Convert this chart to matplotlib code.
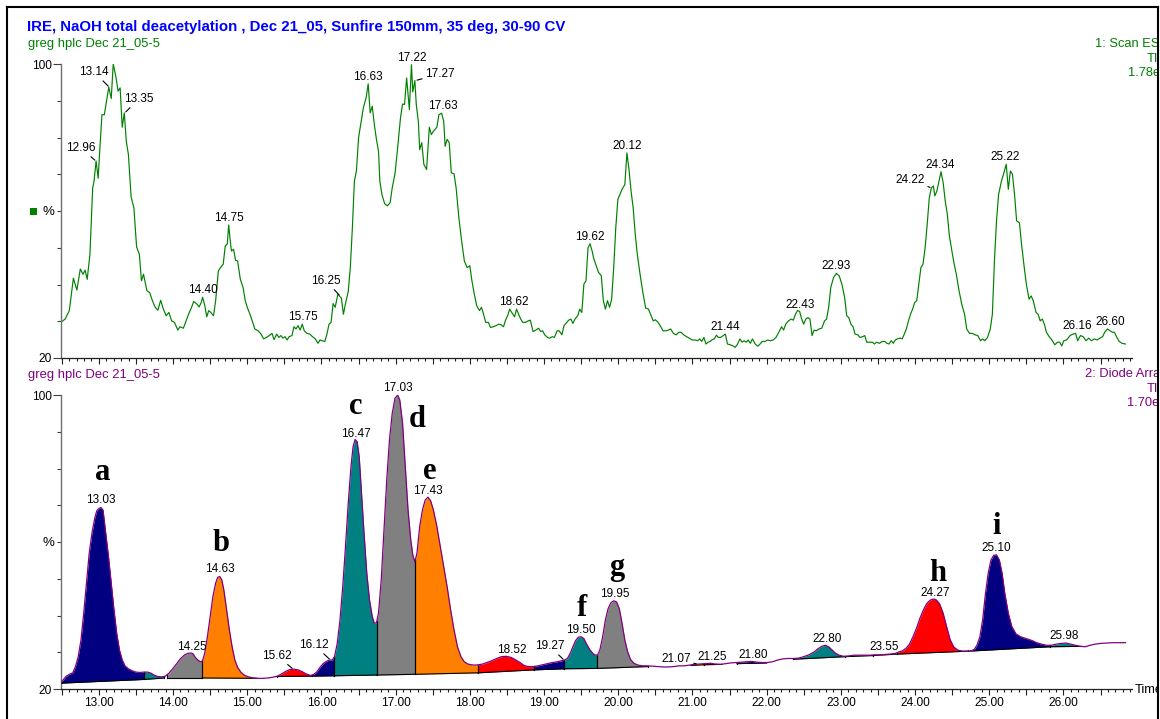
import numpy as np
import matplotlib
matplotlib.use("Agg")
import matplotlib.pyplot as plt
from matplotlib.patches import Rectangle
from matplotlib.lines import Line2D
from matplotlib.ticker import MultipleLocator, FuncFormatter

plt.rcParams['font.family'] = ['Liberation Sans', 'DejaVu Sans']

# ---------------- data ----------------
title = "IRE, NaOH total deacetylation , Dec 21_05, Sunfire 150mm, 35 deg, 30-90 CV"
sample_name = "greg hplc Dec 21_05-5"
top_trace_info = ["1: Scan ES+", "TIC", "1.78e8"]
bot_trace_info = ["2: Diode Array", "TIC", "1.70e1"]

# top panel: TIC (%)
top_time = [12.500, 12.546, 12.602, 12.657, 12.704, 12.750, 12.787, 12.815, 12.843, 12.880,
            12.917, 12.935, 12.963, 12.991, 13.009, 13.042, 13.074, 13.111, 13.134, 13.167,
            13.194, 13.231, 13.259, 13.287, 13.315, 13.343, 13.370, 13.398, 13.435, 13.472,
            13.509, 13.546, 13.574, 13.602, 13.648, 13.685, 13.722, 13.759, 13.796, 13.833,
            13.870, 13.907, 13.944, 13.981, 14.019, 14.065, 14.093, 14.139, 14.176, 14.213,
            14.250, 14.278, 14.315, 14.352, 14.380, 14.398, 14.426, 14.454, 14.481, 14.509,
            14.546, 14.574, 14.611, 14.639, 14.676, 14.704, 14.731, 14.750, 14.769, 14.787,
            14.815, 14.843, 14.870, 14.907, 14.944, 14.972, 15.000, 15.037, 15.074, 15.102,
            15.148, 15.185, 15.222, 15.259, 15.296, 15.333, 15.361, 15.398, 15.426, 15.454,
            15.481, 15.509, 15.537, 15.565, 15.602, 15.630, 15.657, 15.685, 15.713, 15.741,
            15.769, 15.806, 15.843, 15.880, 15.917, 15.954, 15.981, 16.009, 16.046, 16.074,
            16.102, 16.130, 16.157, 16.185, 16.204, 16.222, 16.241, 16.269, 16.296, 16.324,
            16.361, 16.389, 16.417, 16.444, 16.472, 16.500, 16.528, 16.565, 16.602, 16.630,
            16.657, 16.685, 16.713, 16.741, 16.769, 16.787, 16.815, 16.852, 16.889, 16.926,
            16.954, 16.991, 17.028, 17.065, 17.093, 17.120, 17.148, 17.167, 17.185, 17.213,
            17.231, 17.259, 17.278, 17.306, 17.324, 17.352, 17.380, 17.417, 17.454, 17.481,
            17.509, 17.556, 17.583, 17.620, 17.648, 17.667, 17.694, 17.722, 17.750, 17.787,
            17.815, 17.852, 17.889, 17.926, 17.963, 18.000, 18.028, 18.056, 18.093, 18.130,
            18.157, 18.185, 18.213, 18.250, 18.278, 18.315, 18.352, 18.389, 18.417, 18.454,
            18.481, 18.509, 18.537, 18.574, 18.602, 18.630, 18.657, 18.685, 18.713, 18.750,
            18.787, 18.815, 18.852, 18.889, 18.926, 18.954, 18.981, 19.009, 19.046, 19.074,
            19.111, 19.139, 19.176, 19.204, 19.241, 19.269, 19.306, 19.333, 19.361, 19.389,
            19.417, 19.454, 19.481, 19.509, 19.537, 19.565, 19.593, 19.620, 19.648, 19.667,
            19.696, 19.734, 19.771, 19.799, 19.827, 19.855, 19.883, 19.911, 19.939, 19.967,
            19.995, 20.023, 20.051, 20.089, 20.117, 20.145, 20.173, 20.201, 20.229, 20.257,
            20.294, 20.332, 20.369, 20.407, 20.444, 20.472, 20.500, 20.537, 20.565, 20.603,
            20.640, 20.678, 20.706, 20.743, 20.780, 20.818, 20.846, 20.883, 20.921, 20.958,
            20.995, 21.033, 21.070, 21.098, 21.126, 21.154, 21.182, 21.210, 21.238, 21.266,
            21.294, 21.322, 21.350, 21.379, 21.416, 21.444, 21.472, 21.509, 21.547, 21.575,
            21.603, 21.640, 21.668, 21.696, 21.724, 21.752, 21.780, 21.808, 21.846, 21.883,
            21.911, 21.939, 21.977, 22.014, 22.051, 22.089, 22.126, 22.164, 22.201, 22.229,
            22.257, 22.294, 22.332, 22.360, 22.388, 22.416, 22.444, 22.472, 22.500, 22.528,
            22.556, 22.584, 22.612, 22.640, 22.668, 22.706, 22.743, 22.780, 22.808, 22.836,
            22.864, 22.902, 22.939, 22.977, 23.014, 23.051, 23.079, 23.107, 23.136, 23.164,
            23.192, 23.229, 23.257, 23.294, 23.322, 23.350, 23.388, 23.425, 23.453, 23.481,
            23.519, 23.556, 23.593, 23.621, 23.650, 23.678, 23.706, 23.734, 23.762, 23.799,
            23.827, 23.855, 23.883, 23.911, 23.939, 23.967, 23.995, 24.023, 24.051, 24.079,
            24.107, 24.136, 24.164, 24.192, 24.220, 24.248, 24.266, 24.294, 24.322, 24.350,
            24.379, 24.407, 24.435, 24.463, 24.500, 24.528, 24.556, 24.593, 24.631, 24.668,
            24.696, 24.734, 24.771, 24.808, 24.846, 24.883, 24.911, 24.939, 24.977, 25.014,
            25.042, 25.070, 25.098, 25.126, 25.164, 25.192, 25.229, 25.257, 25.285, 25.313,
            25.341, 25.369, 25.407, 25.435, 25.472, 25.500, 25.537, 25.565, 25.593, 25.631,
            25.659, 25.687, 25.715, 25.743, 25.771, 25.808, 25.846, 25.883, 25.921, 25.949,
            25.977, 26.005, 26.042, 26.089, 26.126, 26.164, 26.192, 26.229, 26.266, 26.304,
            26.341, 26.379, 26.416, 26.453, 26.491, 26.528, 26.556, 26.593, 26.631, 26.659,
            26.687, 26.715, 26.752, 26.790, 26.836]
top_intensity = [29.9, 30.6, 32.9, 41.7, 38.5, 44.2, 42.8, 43.9, 41.4, 48.2,
                 66.3, 68.1, 73.6, 68.9, 75.4, 86.2, 86.2, 90.8, 93.7, 90.6,
                 100.0, 96.4, 92.6, 93.5, 82.8, 86.7, 79.0, 75.4, 63.8, 60.9,
                 50.2, 48.2, 41.0, 42.8, 38.3, 37.8, 35.6, 33.8, 33.0, 35.7,
                 33.3, 31.5, 32.4, 30.1, 29.7, 27.6, 28.5, 28.1, 30.1, 32.1,
                 33.8, 35.4, 34.8, 33.9, 35.1, 36.5, 34.5, 31.2, 32.9, 32.4,
                 31.5, 35.6, 43.7, 44.6, 45.5, 50.5, 51.0, 56.2, 52.3, 49.1,
                 49.6, 46.6, 46.4, 41.4, 39.2, 35.7, 33.8, 31.9, 29.7, 27.9,
                 27.4, 26.5, 25.2, 25.6, 26.1, 26.7, 25.0, 26.5, 25.6, 26.1,
                 25.4, 25.8, 24.9, 25.8, 26.1, 28.5, 27.9, 28.8, 27.6, 29.2,
                 27.4, 26.7, 26.5, 25.8, 25.2, 24.0, 24.9, 24.7, 24.5, 26.5,
                 29.2, 29.7, 34.8, 33.8, 35.7, 37.4, 36.9, 36.3, 31.9, 34.8,
                 38.1, 44.6, 55.5, 68.1, 71.0, 79.9, 83.5, 88.1, 90.8, 94.6,
                 86.7, 88.5, 83.5, 79.5, 76.3, 68.1, 64.5, 62.0, 61.4, 62.3,
                 66.3, 70.1, 77.4, 85.3, 89.1, 89.0, 96.2, 91.7, 87.6, 99.8,
                 92.4, 95.5, 89.0, 84.4, 76.7, 78.6, 72.7, 71.3, 82.8, 80.8,
                 81.7, 82.8, 86.2, 86.6, 84.4, 77.6, 79.5, 78.6, 70.4, 70.1,
                 66.3, 58.2, 51.9, 46.4, 44.6, 45.1, 41.0, 37.8, 34.2, 32.9,
                 33.8, 31.9, 29.7, 29.7, 28.3, 28.5, 28.8, 29.2, 29.1, 28.5,
                 30.3, 31.5, 33.3, 32.1, 31.2, 33.3, 31.9, 30.6, 29.7, 29.7,
                 30.1, 30.3, 27.2, 27.6, 28.1, 27.2, 27.4, 26.3, 25.6, 25.4,
                 25.8, 25.6, 27.4, 27.4, 26.3, 28.8, 29.7, 30.3, 30.6, 29.4,
                 30.6, 31.5, 33.3, 32.4, 40.1, 41.0, 50.0, 51.1, 49.1, 47.3,
                 45.5, 43.3, 42.4, 35.6, 33.3, 35.6, 33.8, 36.0, 44.6, 55.5,
                 63.2, 64.5, 65.9, 67.2, 75.8, 71.3, 65.4, 60.9, 53.7, 48.2,
                 42.8, 37.8, 33.6, 33.3, 31.5, 30.1, 30.4, 29.7, 28.8, 27.4,
                 27.4, 27.6, 27.9, 26.7, 26.3, 27.0, 27.0, 26.3, 25.8, 25.4,
                 24.9, 24.9, 24.7, 25.2, 24.5, 25.6, 23.8, 24.3, 24.5, 25.0,
                 25.2, 26.2, 25.6, 25.6, 26.1, 26.5, 23.8, 23.6, 23.3, 22.9,
                 23.6, 25.2, 24.3, 24.7, 24.3, 24.9, 24.0, 25.2, 23.8, 23.2,
                 23.8, 24.5, 24.5, 24.9, 24.7, 24.9, 25.6, 27.0, 28.5, 27.6,
                 29.2, 30.1, 30.6, 30.3, 31.9, 32.9, 32.7, 30.6, 29.2, 30.6,
                 31.0, 30.6, 26.1, 27.6, 27.4, 27.9, 28.1, 30.1, 30.6, 33.8,
                 39.2, 41.9, 43.0, 42.4, 40.1, 36.5, 31.5, 31.0, 29.2, 28.5,
                 26.5, 26.3, 25.6, 25.8, 26.1, 24.3, 24.3, 24.3, 23.8, 24.3,
                 24.0, 24.5, 24.5, 24.0, 23.8, 24.7, 24.0, 24.9, 25.2, 25.4,
                 25.2, 26.5, 27.9, 30.1, 31.9, 33.3, 35.1, 35.6, 40.1, 44.6,
                 45.5, 50.0, 56.4, 63.6, 66.3, 66.8, 64.1, 65.4, 68.1, 70.7,
                 67.7, 62.7, 59.1, 53.2, 48.7, 45.5, 42.8, 38.3, 34.5, 31.9,
                 27.9, 26.7, 26.7, 26.3, 26.1, 24.7, 25.2, 24.7, 25.6, 27.9,
                 31.9, 46.4, 57.3, 64.5, 68.1, 70.0, 72.7, 65.9, 70.9, 70.0,
                 64.5, 57.3, 56.8, 51.0, 44.6, 40.1, 36.0, 36.9, 35.6, 32.4,
                 31.9, 30.1, 30.6, 29.2, 27.0, 25.8, 24.9, 23.6, 24.3, 24.3,
                 23.3, 24.7, 24.9, 26.1, 26.5, 26.7, 24.7, 26.1, 25.8, 24.7,
                 25.4, 24.7, 25.2, 24.9, 25.4, 25.8, 27.0, 27.9, 27.4, 27.0,
                 27.0, 25.8, 24.5, 24.0, 23.8]

top_peak_labels = ["12.96", "13.14", "13.35", "14.40", "14.75", "15.75", "16.25", "16.63",
                   "17.22", "17.27", "17.63", "18.62", "19.62", "20.12", "21.44", "22.43",
                   "22.93", "24.22", "24.34", "25.22", "26.16", "26.60"]

# bottom panel: diode array trace (%)
bot_time = [12.500, 12.556, 12.602, 12.648, 12.685, 12.722, 12.759, 12.796, 12.833, 12.870,
            12.907, 12.944, 12.972, 13.000, 13.028, 13.056, 13.093, 13.130, 13.167, 13.204,
            13.241, 13.278, 13.315, 13.352, 13.398, 13.444, 13.500, 13.556, 13.611, 13.657,
            13.704, 13.750, 13.796, 13.852, 13.898, 13.944, 13.991, 14.046, 14.102, 14.157,
            14.200, 14.241, 14.269, 14.300, 14.333, 14.370, 14.398, 14.426, 14.463, 14.500,
            14.537, 14.574, 14.602, 14.630, 14.657, 14.685, 14.722, 14.759, 14.796, 14.833,
            14.870, 14.917, 14.963, 15.019, 15.083, 15.148, 15.213, 15.278, 15.343, 15.407,
            15.463, 15.519, 15.574, 15.630, 15.685, 15.741, 15.796, 15.852, 15.889, 15.935,
            15.981, 16.028, 16.074, 16.111, 16.148, 16.176, 16.213, 16.250, 16.287, 16.324,
            16.361, 16.398, 16.426, 16.454, 16.481, 16.509, 16.537, 16.574, 16.611, 16.648,
            16.685, 16.713, 16.741, 16.769, 16.806, 16.843, 16.880, 16.917, 16.954, 16.991,
            17.028, 17.056, 17.093, 17.130, 17.167, 17.204, 17.231, 17.259, 17.287, 17.324,
            17.361, 17.398, 17.435, 17.472, 17.509, 17.556, 17.602, 17.648, 17.694, 17.741,
            17.787, 17.833, 17.880, 17.926, 17.972, 18.019, 18.065, 18.120, 18.176, 18.231,
            18.296, 18.361, 18.426, 18.491, 18.556, 18.620, 18.676, 18.731, 18.787, 18.852,
            18.917, 18.981, 19.046, 19.111, 19.176, 19.241, 19.278, 19.315, 19.352, 19.389,
            19.426, 19.463, 19.500, 19.537, 19.574, 19.620, 19.667, 19.687, 19.720, 19.752,
            19.790, 19.827, 19.864, 19.902, 19.939, 19.977, 20.014, 20.051, 20.089, 20.126,
            20.164, 20.210, 20.266, 20.332, 20.397, 20.467, 20.537, 20.607, 20.678, 20.748,
            20.818, 20.888, 20.958, 21.028, 21.098, 21.168, 21.238, 21.308, 21.379, 21.449,
            21.519, 21.589, 21.659, 21.729, 21.799, 21.869, 21.939, 22.009, 22.079, 22.150,
            22.220, 22.290, 22.360, 22.430, 22.500, 22.570, 22.640, 22.696, 22.743, 22.790,
            22.836, 22.883, 22.930, 22.977, 23.037, 23.107, 23.178, 23.248, 23.318, 23.388,
            23.458, 23.528, 23.598, 23.668, 23.738, 23.785, 23.832, 23.879, 23.925, 23.972,
            24.019, 24.065, 24.112, 24.159, 24.206, 24.252, 24.290, 24.332, 24.379, 24.425,
            24.472, 24.519, 24.575, 24.640, 24.706, 24.762, 24.799, 24.836, 24.874, 24.911,
            24.949, 24.986, 25.023, 25.061, 25.098, 25.136, 25.173, 25.210, 25.257, 25.304,
            25.360, 25.425, 25.500, 25.575, 25.640, 25.706, 25.771, 25.836, 25.902, 25.967,
            26.033, 26.098, 26.164, 26.229, 26.294, 26.360, 26.425, 26.500, 26.575, 26.659,
            26.752, 26.836]
bot_intensity = [22.0, 23.4, 24.0, 24.4, 26.1, 28.8, 33.3, 40.6, 48.8, 56.9,
                 62.4, 66.4, 68.5, 69.1, 69.4, 68.7, 62.4, 56.0, 48.8, 41.5,
                 35.1, 30.6, 27.9, 26.3, 25.5, 25.0, 24.6, 24.5, 24.6, 24.6,
                 24.3, 23.7, 23.4, 23.3, 23.5, 24.3, 25.4, 26.8, 28.3, 29.3,
                 29.7, 29.8, 29.6, 28.6, 27.9, 27.4, 27.7, 29.7, 34.2, 39.7,
                 45.1, 48.8, 50.4, 50.6, 49.7, 46.9, 41.5, 36.1, 31.5, 27.9,
                 25.9, 24.5, 23.7, 23.3, 23.0, 22.9, 22.9, 23.0, 23.2, 23.5,
                 24.1, 24.8, 25.3, 25.4, 25.2, 24.7, 24.1, 23.7, 23.9, 24.6,
                 25.9, 27.0, 27.6, 27.9, 27.9, 28.8, 32.4, 38.8, 47.8, 58.7,
                 70.5, 80.5, 85.9, 87.9, 87.3, 83.2, 74.1, 62.4, 51.5, 44.2,
                 39.7, 37.9, 38.0, 40.6, 49.7, 63.3, 76.9, 87.8, 95.0, 99.1,
                 100.0, 98.6, 92.3, 80.5, 68.7, 60.5, 56.5, 54.6, 56.9, 64.2,
                 68.7, 71.4, 72.2, 71.2, 68.7, 64.2, 58.7, 53.3, 47.8, 41.5,
                 36.1, 31.5, 28.8, 27.4, 26.8, 26.6, 26.5, 26.6, 26.8, 27.2,
                 27.7, 28.3, 28.8, 28.9, 28.6, 27.9, 27.2, 26.4, 26.1, 26.1,
                 26.3, 26.6, 26.9, 27.2, 27.4, 27.7, 27.9, 28.3, 29.7, 31.5,
                 33.2, 34.1, 34.2, 33.7, 32.2, 30.6, 29.5, 29.3, 29.2, 30.6,
                 34.2, 38.8, 41.9, 43.5, 44.0, 43.7, 41.9, 37.9, 33.3, 30.2,
                 28.1, 27.0, 26.5, 26.3, 26.3, 26.2, 26.1, 26.0, 26.0, 26.1,
                 26.3, 26.3, 26.5, 26.7, 26.8, 26.9, 27.0, 26.8, 26.7, 26.9,
                 27.1, 27.2, 27.3, 27.4, 27.5, 27.3, 27.2, 27.2, 27.4, 27.9,
                 28.2, 28.3, 28.3, 28.4, 28.8, 29.3, 30.1, 31.0, 31.6, 31.9,
                 31.5, 30.6, 29.7, 29.2, 28.9, 29.0, 29.2, 29.2, 29.2, 29.2,
                 29.3, 29.3, 29.4, 29.5, 29.7, 30.1, 30.4, 31.1, 32.2, 34.2,
                 36.5, 39.2, 41.5, 43.3, 44.2, 44.5, 44.2, 43.1, 40.6, 37.0,
                 33.5, 31.5, 30.6, 30.3, 30.3, 30.4, 30.8, 32.0, 34.2, 38.8,
                 46.0, 51.5, 55.1, 56.4, 56.5, 55.1, 51.5, 46.0, 40.6, 37.0,
                 35.0, 34.2, 33.7, 33.2, 32.6, 32.2, 31.9, 31.9, 32.2, 32.4,
                 32.5, 32.2, 31.9, 31.6, 31.5, 31.9, 32.2, 32.4, 32.5, 32.6,
                 32.6, 32.6]

# integrated peaks: start, end, baseline at start, baseline at end
peak_start = [12.50, 13.61, 13.92, 14.39, 15.40, 15.87, 16.17, 16.745, 17.264, 18.11, 18.86,
              19.27, 19.72, 20.98, 21.15, 21.60, 22.36, 23.06, 23.43, 23.76, 24.72, 25.82]
peak_end = [13.61, 13.88, 14.39, 15.13, 15.87, 16.17, 16.745, 17.264, 18.11, 18.86, 19.27,
            19.72, 20.40, 21.15, 21.40, 22.00, 23.06, 23.43, 23.76, 24.72, 25.82, 26.24]
base_start = [21.6, 22.6, 23.0, 23.0, 23.4, 23.5, 23.6, 23.8, 24.0, 24.4, 25.2,
              25.5, 25.6, 26.4, 26.6, 26.9, 28.1, 28.8, 29.1, 29.5, 30.3, 31.5]
base_end = [22.6, 23.0, 23.0, 22.9, 23.5, 23.6, 23.8, 24.0, 24.4, 25.2, 25.5,
            25.6, 26.1, 26.6, 26.7, 27.1, 28.8, 29.1, 29.5, 30.3, 31.5, 31.6]
peak_colors = ["#000080", "#008080", "#808080", "#FF8000", "#FF0000"]

bot_peak_labels = ["13.03", "14.25", "14.63", "15.62", "16.12", "16.47", "17.03", "17.43",
                   "18.52", "19.27", "19.50", "19.95", "21.07", "21.25", "21.80", "22.80",
                   "23.55", "24.27", "25.10", "25.98"]

letters = ["a", "b", "c", "d", "e", "f", "g", "h", "i"]
letter_peaks = ["13.03", "14.63", "16.47", "17.03", "17.43", "19.50", "19.95", "24.27", "25.10"]

# ---------------- layout / style ----------------
W, H = 1160, 719
XMIN, XMAX = 12.49, 26.924
fig = plt.figure(figsize=(W / 100, H / 100), dpi=100)
fig.patch.set_facecolor("white")


def fx(px):
    return px / W


def fy(py):
    return 1 - py / H


ax1 = fig.add_axes([fx(61), fy(358), (1132 - 61) / W, (358 - 64) / H])
ax2 = fig.add_axes([fx(61), fy(689), (1132 - 61) / W, (689 - 395) / H])

xfmt = FuncFormatter(lambda v, p: f"{v:.2f}" if abs(v - round(v)) < 1e-6 else "")
for ax in (ax1, ax2):
    ax.set_xlim(XMIN, XMAX)
    ax.set_ylim(20, 100)
    ax.patch.set_visible(False)
    for s in ("top", "right"):
        ax.spines[s].set_visible(False)
    ax.spines["left"].set_color("#707070")
    ax.spines["left"].set_linewidth(1.0)
    ax.spines["bottom"].set_color("#202020")
    ax.spines["bottom"].set_linewidth(0.9)
    ax.set_yticks([20, 100])
    ax.set_yticklabels(["20", "100"])
    ax.yaxis.set_minor_locator(MultipleLocator(10))
    ax.xaxis.set_major_locator(MultipleLocator(0.5))
    ax.xaxis.set_minor_locator(MultipleLocator(0.1))
    ax.xaxis.set_major_formatter(xfmt)
    ax.tick_params(axis="y", which="major", length=6, width=0.8, color="#404040",
                   labelsize=8.6, pad=0.8)
    ax.tick_params(axis="y", which="minor", length=2.6, width=0.8, color="#404040")
    ax.tick_params(axis="x", which="major", length=4, width=0.8, color="#202020",
                   labelsize=8.6, pad=1.8)
    ax.tick_params(axis="x", which="minor", length=2.3, width=0.8, color="#202020")
ax1.tick_params(axis="x", labelbottom=False)

# ---------------- top panel ----------------
tt = np.array(top_time)
tv = np.array(top_intensity)
ax1.plot(tt, tv, color="#008000", lw=0.85)

top_offsets = {"12.96": (-15, 13, True), "13.14": (-15, 15, True), "13.35": (14, 14, True),
               "16.25": (-14, 15, True), "17.27": (24, 6.5, True), "24.22": (-21, 7.5, True),
               "18.62": (-2, 7, False), "22.43": (2, 6, False), "26.16": (2, 7, False),
               "26.60": (2, 6.5, False)}
for lab in top_peak_labels:
    t = float(lab)
    m = np.abs(tt - t) <= 0.02
    v = tv[m].max() if m.any() else np.interp(t, tt, tv)
    dx, dy, lead = top_offsets.get(lab, (0, 7, False))
    kw = dict(arrowprops=dict(arrowstyle="-", lw=0.8, color="black", shrinkA=0, shrinkB=1)) if lead else {}
    ax1.annotate(lab, xy=(t, v), xytext=(dx, dy), textcoords="offset pixels",
                 ha="center", va="center", fontsize=8.5, color="black", **kw)

# ---------------- bottom panel ----------------
bt = np.array(bot_time)
bv = np.array(bot_intensity)
for i, (s, e, b0, b1) in enumerate(zip(peak_start, peak_end, base_start, base_end)):
    grid = np.concatenate(([s], bt[(bt > s) & (bt < e)], [e]))
    curve = np.interp(grid, bt, bv)
    base = np.interp(grid, [s, e], [b0, b1])
    ax2.fill_between(grid, base, curve, color=peak_colors[i % 5], lw=0, zorder=2)
    ax2.plot([s, e], [b0, b1], color="black", lw=0.8, zorder=3)
    ax2.plot([s, s], [b0, curve[0]], color="black", lw=0.8, zorder=3)
    ax2.plot([e, e], [b1, curve[-1]], color="black", lw=0.8, zorder=3)
ax2.plot(bt, bv, color="#800080", lw=0.9, zorder=4)

bot_offsets = {"15.62": (-16, 13.5, True), "16.12": (-16, 15, True), "19.27": (-14.5, 14, True),
               "21.07": (-21.5, 5, True), "18.52": (3, 7, False), "21.25": (1, 6, False),
               "21.80": (1, 6, False), "22.80": (1.5, 6.5, False), "23.55": (3, 7.5, False),
               "25.98": (2, 7.5, False), "14.25": (0, 6.5, False), "17.43": (0, 6.5, False),
               "19.50": (0, 6.5, False), "24.27": (0, 6.5, False)}
for lab in bot_peak_labels:
    t = float(lab)
    v = np.interp(t, bt, bv)
    dx, dy, lead = bot_offsets.get(lab, (0, 7.2, False))
    kw = dict(arrowprops=dict(arrowstyle="-", lw=0.8, color="black", shrinkA=0, shrinkB=1)) if lead else {}
    ax2.annotate(lab, xy=(t, v), xytext=(dx, dy), textcoords="offset pixels",
                 ha="center", va="center", fontsize=8.5, color="black", zorder=5, **kw)

letter_offsets = [(1.5, 28), (1, 25.5), (-1, 27), (19, -32), (2, 19), (0.5, 20.5),
                  (2.4, 26.5), (2.5, 18.5), (0, 21.5)]
for let, lp, (dx, dy) in zip(letters, letter_peaks, letter_offsets):
    t = float(lp)
    v = np.interp(t, bt, bv)
    ax2.annotate(let, xy=(t, v), xytext=(dx, dy), textcoords="offset pixels",
                 ha="center", va="baseline", fontsize=22, fontweight="bold",
                 family=["Liberation Serif", "DejaVu Serif"], color="black", zorder=6)

# ---------------- figure texts ----------------
fig.text(fx(27), fy(26.5), title, color="#0000FF", fontsize=10.8, fontweight="bold",
         ha="left", va="center")
fig.text(fx(28), fy(43.5), sample_name, color="#008000", fontsize=9.4, ha="left", va="center")
fig.text(fx(28), fy(375), sample_name, color="#800080", fontsize=9.4, ha="left", va="center")
for k, s in enumerate(top_trace_info):
    fig.text(fx(1167), fy(44 + 14.6 * k), s, color="#008000", fontsize=9.3, ha="right", va="center")
for k, s in enumerate(bot_trace_info):
    fig.text(fx(1167), fy(374 + 14.6 * k), s, color="#800080", fontsize=9.3, ha="right", va="center")
fig.text(fx(48.5), fy(212), "%", fontsize=9.5, ha="center", va="center")
fig.text(fx(48.5), fy(543), "%", fontsize=9.5, ha="center", va="center")
fig.add_artist(Rectangle((fx(29.5), fy(215.5)), 7 / W, 7 / H, transform=fig.transFigure,
                         facecolor="#008000", edgecolor="none"))
fig.text(fx(1135), fy(690), "Time", fontsize=9.3, ha="left", va="center")

# clip at the frame and draw the frame
fig.add_artist(Rectangle((fx(1158), 0), 10 / W, 1, transform=fig.transFigure,
                         facecolor="white", edgecolor="none", zorder=10))
frame_kw = dict(transform=fig.transFigure, color="black", lw=1.5, zorder=11)
fig.add_artist(Line2D([fx(7), fx(7)], [0, fy(7)], **frame_kw))
fig.add_artist(Line2D([fx(7), fx(1157.5)], [fy(7), fy(7)], **frame_kw))
fig.add_artist(Line2D([fx(1157.5), fx(1157.5)], [0, fy(7)], **frame_kw))

fig.savefig("out.png", dpi=100, facecolor="white")
